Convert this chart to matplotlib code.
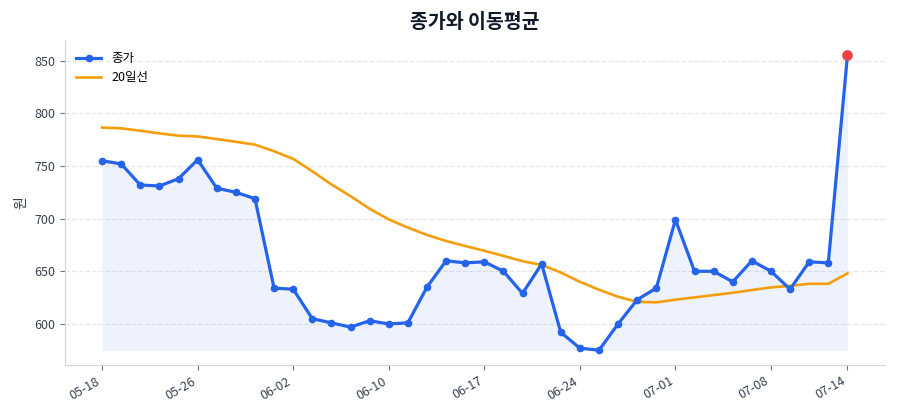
import matplotlib
matplotlib.use('Agg')
import matplotlib.pyplot as plt
import numpy as np

plt.rcParams['font.family'] = ['Noto Sans CJK KR', 'DejaVu Sans']

# trading days (labels only every 5th + last)
dates = ['05-18', '05-19', '05-22', '05-23', '05-25',
         '05-26', '05-29', '05-30', '05-31', '06-01',
         '06-02', '06-05', '06-07', '06-08', '06-09',
         '06-10', '06-12', '06-13', '06-14', '06-15',
         '06-17', '06-19', '06-20', '06-21', '06-22',
         '06-24', '06-26', '06-27', '06-28', '06-29',
         '07-01', '07-03', '07-04', '07-05', '07-06',
         '07-08', '07-10', '07-11', '07-12', '07-14']

close = [755, 752, 732, 731, 738, 756, 729, 725, 719, 634,
         633, 605, 601, 597, 603, 600, 601, 635, 660, 658,
         659, 650, 629, 657, 592, 577, 575, 600, 623, 634,
         699, 650, 650, 640, 660, 650, 633, 659, 658, 855]

ma20 = [786.5, 785.8, 783.5, 781, 778.8, 778.1, 775.6, 773, 770.3, 764,
        756.8, 745, 732.5, 721.4, 709.4, 699.3, 691.5, 684.5, 678.8, 674,
        669.5, 664.6, 659.6, 656, 648.9, 640, 632.5, 625.8, 621, 620.5,
        623, 625.2, 627.4, 629.6, 632.2, 634.7, 636.2, 638.1, 638.1, 648]

x = np.arange(len(close))

fig = plt.figure(figsize=(9, 4.2), dpi=100)
ax = fig.add_axes([0.072, 0.131, 0.911, 0.772])

blue = '#2563eb'
ax.fill_between(x, close, min(close), color=blue, alpha=0.08, linewidth=0)
ax.plot(x, close, color=blue, lw=2.3, marker='o', markersize=4.5, label='종가', zorder=3)
ax.plot(x, ma20, color='#f59e0b', lw=1.9, label='20일선', zorder=2)
ax.scatter([x[-1]], [close[-1]], s=45, color='#ef4444', zorder=4)

ticks = list(range(0, len(x), 5))
if ticks[-1] != len(x) - 1:
    ticks.append(len(x) - 1)
ax.set_xticks(ticks)
ax.set_xticklabels([dates[i] for i in ticks], rotation=30, ha='right')
ax.set_yticks([600, 650, 700, 750, 800, 850])

ax.set_title('종가와 이동평균', fontsize=14, fontweight='bold', color='#111827', pad=9)
ax.set_ylabel('원', fontsize=10, color='#374151')

ax.grid(axis='y', linestyle='--', color='#e5e7eb', lw=0.9)
ax.set_axisbelow(True)
for s in ['top', 'right']:
    ax.spines[s].set_visible(False)
for s in ['left', 'bottom']:
    ax.spines[s].set_color('#d1d5db')
ax.tick_params(colors='#374151', labelsize=9)
ax.tick_params(axis='both', color='#6b7280')

ax.legend(loc='upper left', frameon=False, fontsize=9)

fig.savefig('out.png', dpi=100)
